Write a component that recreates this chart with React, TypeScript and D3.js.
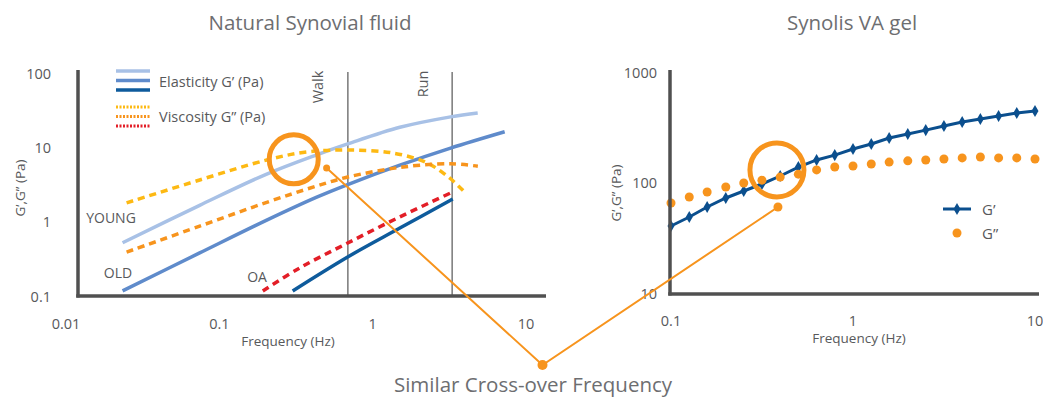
import React from "react";
import * as d3 from "d3";

// ---------- Left chart: Natural Synovial fluid ----------
const leftXTicks = [0.01, 0.1, 1, 10];
const leftXTickLabels = ["0.01", "0.1", "1", "10"];
const leftYTicks = [0.1, 1, 10, 100];
const leftYTickLabels = ["0.1", "1", "10", "100"];

const youngGpFreq = [0.0241, 0.0767, 0.21, 0.445, 0.708, 1.55, 3.32, 4.99];
const youngGpVal = [0.52, 1.66, 4.37, 7.94, 11.1, 18.6, 25.7, 29.0];

const youngGppFreq = [0.0256, 0.0767, 0.21, 0.383, 0.708, 1.39, 2.32, 3.27, 4.1];
const youngGppVal = [1.79, 3.64, 6.76, 8.67, 9.2, 8.4, 6.2, 3.87, 2.5];

const oldGpFreq = [0.0241, 0.0767, 0.21, 0.445, 0.708, 1.55, 3.32, 7.48];
const oldGpVal = [0.117, 0.38, 1.05, 2.14, 3.16, 5.75, 9.77, 16.2];

const oldGppFreq = [0.0256, 0.0767, 0.21, 0.445, 0.708, 1.55, 3.32, 5.0];
const oldGppVal = [0.39, 0.87, 1.82, 3.02, 3.98, 5.37, 6.03, 5.56];

const oaGppFreq = [0.198, 0.344, 0.708, 1.55, 3.43];
const oaGppVal = [0.117, 0.238, 0.516, 1.16, 2.51];

const oaGpFreq = [0.31, 0.708, 1.55, 3.43];
const oaGpVal = [0.117, 0.335, 0.82, 2.02];

const activityFreq = [0.71, 3.4];
const activityLabels = ["Walk", "Run"];

// ---------- Right chart: Synolis VA gel ----------
const rightXTicks = [0.1, 1, 10];
const rightXTickLabels = ["0.1", "1", "10"];
const rightYTicks = [10, 100, 1000];
const rightYTickLabels = ["10", "100", "1000"];

const gelFreq = [0.1, 0.126, 0.158, 0.2, 0.251, 0.316, 0.398, 0.501, 0.631, 0.794, 1, 1.26, 1.58, 2, 2.51, 3.16, 3.98, 5.01, 6.31, 7.94, 10];
const gelGp = [40.4, 48.7, 60, 72.4, 83.8, 96.9, 114.5, 138, 160, 177, 201, 223, 253, 275, 298, 324, 353, 376, 400, 426, 444];
const gelGpp = [65.2, 73.9, 82, 91, 98.9, 105, 112, 119, 130, 138, 141, 147, 153, 157, 160, 163, 167, 170, 167, 167, 163];

// annotation anchor values (data coordinates)
const leftCross = { f: 0.315, v: 6.9 };
const leftCrossDot = { f: 0.516, v: 5.28 };
const rightCross = { f: 0.382, v: 130 };
const rightCrossDot = { f: 0.387, v: 60 };
const apex = { f: 13.2, v: 0.0118 };

const C = {
  light: "#a8c1e6",
  medium: "#5f8bcb",
  dark: "#0e5b9c",
  diamond: "#0b4f8e",
  yellow: "#fdb913",
  orange: "#f7941d",
  red: "#e31e27",
  axis: "#505050",
  grid: "#808080",
  text: "#6d6e71",
  label: "#58595b",
};

const FONT = "'Open Sans', Lato, sans-serif";

export default function App() {
  const lx = d3.scaleLog().domain([0.01, 10]).range([64, 524]);
  const ly = d3.scaleLog().domain([0.1, 100]).range([296, 73]);
  const rx = d3.scaleLog().domain([0.1, 10]).range([671, 1035]);
  const ry = d3.scaleLog().domain([10, 1000]).range([293, 72]);

  const lineL = d3
    .line<[number, number]>()
    .x((d) => lx(d[0]))
    .y((d) => ly(d[1]))
    .curve(d3.curveCatmullRom.alpha(0.5));
  const lineR = d3
    .line<[number, number]>()
    .x((d) => rx(d[0]))
    .y((d) => ry(d[1]));

  const zip = (a: number[], b: number[]) => a.map((f, i) => [f, b[i]] as [number, number]);

  const curves = [
    { f: youngGpFreq, v: youngGpVal, color: C.light, dash: "" },
    { f: oldGpFreq, v: oldGpVal, color: C.medium, dash: "" },
    { f: oaGpFreq, v: oaGpVal, color: C.dark, dash: "" },
    { f: youngGppFreq, v: youngGppVal, color: C.yellow, dash: "7 5" },
    { f: oldGppFreq, v: oldGppVal, color: C.orange, dash: "7 5" },
    { f: oaGppFreq, v: oaGppVal, color: C.red, dash: "7 5" },
  ];

  const diamond = d3.symbol().type(d3.symbolDiamond).size(42)() as string;

  const apexX = lx(apex.f);
  const apexY = ly(apex.v);

  return (
    <svg
      width={1043}
      height={399}
      style={{ position: "absolute", left: 0, top: 0, background: "#fff" }}
      fontFamily={FONT}
    >
      {/* Titles */}
      <text x={310} y={30} textAnchor="middle" fontSize={20.5} fill={C.text}>
        Natural Synovial fluid
      </text>
      <text x={852} y={30} textAnchor="middle" fontSize={20.5} fill={C.text}>
        Synolis VA gel
      </text>

      {/* ---------- LEFT CHART ---------- */}
      {activityFreq.map((f, i) => (
        <g key={"act" + i}>
          <line x1={lx(f)} x2={lx(f)} y1={72} y2={296} stroke={C.grid} strokeWidth={1.6} />
          <text
            transform={`translate(${lx(f) - 30},${i === 0 ? 87 : 84}) rotate(-90)`}
            textAnchor="middle"
            dominantBaseline="central"
            fontSize={14.5}
            fill={C.label}
          >
            {activityLabels[i]}
          </text>
        </g>
      ))}

      {curves.map((c, i) => (
        <path
          key={"c" + i}
          d={lineL(zip(c.f, c.v)) || ""}
          fill="none"
          stroke={c.color}
          strokeWidth={3.5}
          strokeDasharray={c.dash}
        />
      ))}

      {/* axes */}
      <line x1={78} x2={78} y1={70} y2={297.5} stroke={C.axis} strokeWidth={3.5} />
      <line x1={76.25} x2={546} y1={296} y2={296} stroke={C.axis} strokeWidth={3.5} />

      {leftYTicks.map((t, i) => (
        <text key={"ly" + i} x={51} y={ly(t)} textAnchor="end" dominantBaseline="central" fontSize={14.5} fill={C.label}>
          {leftYTickLabels[i]}
        </text>
      ))}
      {leftXTicks.map((t, i) => (
        <text key={"lx" + i} x={lx(t) + 2} y={323} textAnchor="middle" dominantBaseline="central" fontSize={14.5} fill={C.label}>
          {leftXTickLabels[i]}
        </text>
      ))}
      <text x={288} y={341} textAnchor="middle" dominantBaseline="central" fontSize={13.5} fill={C.label}>
        Frequency (Hz)
      </text>
      <text
        transform="translate(20,188) rotate(-90)"
        textAnchor="middle"
        dominantBaseline="central"
        fontSize={13.5}
        fill={C.label}
      >
        G’,G” (Pa)
      </text>

      {/* group labels */}
      <text x={111} y={217} textAnchor="middle" dominantBaseline="central" fontSize={14} fill={C.label}>
        YOUNG
      </text>
      <text x={118} y={272} textAnchor="middle" dominantBaseline="central" fontSize={14} fill={C.label}>
        OLD
      </text>
      <text x={257} y={276} textAnchor="middle" dominantBaseline="central" fontSize={14} fill={C.label}>
        OA
      </text>

      {/* legend */}
      {[C.light, C.medium, C.dark].map((col, i) => (
        <line key={"lg1" + i} x1={116} x2={150} y1={71 + i * 9.5} y2={71 + i * 9.5} stroke={col} strokeWidth={3.5} />
      ))}
      <text x={159} y={81} dominantBaseline="central" fontSize={14.5} fill={C.label}>
        Elasticity G’ (Pa)
      </text>
      {[C.yellow, C.orange, C.red].map((col, i) => (
        <line
          key={"lg2" + i}
          x1={116}
          x2={150}
          y1={107 + i * 9.5}
          y2={107 + i * 9.5}
          stroke={col}
          strokeWidth={3}
          strokeDasharray="2 1.5"
        />
      ))}
      <text x={159} y={116} dominantBaseline="central" fontSize={14.5} fill={C.label}>
        Viscosity G” (Pa)
      </text>

      {/* ---------- RIGHT CHART ---------- */}
      <path d={lineR(zip(gelFreq, gelGp)) || ""} fill="none" stroke={C.diamond} strokeWidth={3} />
      {gelFreq.map((f, i) => (
        <path key={"dm" + i} d={diamond} transform={`translate(${rx(f)},${ry(gelGp[i])})`} fill={C.diamond} />
      ))}
      {gelFreq.map((f, i) => (
        <circle key={"gd" + i} cx={rx(f)} cy={ry(gelGpp[i])} r={4.5} fill={C.orange} />
      ))}

      <line x1={670} x2={670} y1={70} y2={295.5} stroke={C.axis} strokeWidth={3.5} />
      <line x1={668.25} x2={1039} y1={294} y2={294} stroke={C.axis} strokeWidth={3.5} />

      {rightYTicks.map((t, i) => (
        <text key={"ry" + i} x={657} y={ry(t)} textAnchor="end" dominantBaseline="central" fontSize={14.5} fill={C.label}>
          {rightYTickLabels[i]}
        </text>
      ))}
      {rightXTicks.map((t, i) => (
        <text key={"rx" + i} x={rx(t)} y={320} textAnchor="middle" dominantBaseline="central" fontSize={14.5} fill={C.label}>
          {rightXTickLabels[i]}
        </text>
      ))}
      <text x={859} y={338} textAnchor="middle" dominantBaseline="central" fontSize={13.5} fill={C.label}>
        Frequency (Hz)
      </text>
      <text
        transform="translate(616,193) rotate(-90)"
        textAnchor="middle"
        dominantBaseline="central"
        fontSize={13.5}
        fill={C.label}
      >
        G’,G” (Pa)
      </text>

      {/* right legend */}
      <line x1={943} x2={971} y1={209} y2={209} stroke={C.diamond} strokeWidth={3} />
      <path d={diamond} transform="translate(957,209)" fill={C.diamond} />
      <text x={982} y={209} dominantBaseline="central" fontSize={15} fill={C.label}>
        G’
      </text>
      <circle cx={957} cy={233} r={4.5} fill={C.orange} />
      <text x={982} y={233} dominantBaseline="central" fontSize={15} fill={C.label}>
        G”
      </text>

      {/* ---------- ANNOTATION ---------- */}
      <circle cx={lx(leftCross.f)} cy={ly(leftCross.v)} r={24.5} fill="none" stroke={C.orange} strokeWidth={5} />
      <circle cx={rx(rightCross.f)} cy={ry(rightCross.v)} r={27} fill="none" stroke={C.orange} strokeWidth={5} />
      <circle cx={lx(leftCrossDot.f)} cy={ly(leftCrossDot.v)} r={3.5} fill={C.orange} />
      <circle cx={rx(rightCrossDot.f)} cy={ry(rightCrossDot.v)} r={4.5} fill={C.orange} />
      <polyline
        points={`${lx(leftCrossDot.f)},${ly(leftCrossDot.v)} ${apexX},${apexY} ${rx(rightCrossDot.f)},${ry(rightCrossDot.v)}`}
        fill="none"
        stroke={C.orange}
        strokeWidth={2}
      />
      <circle cx={apexX} cy={apexY} r={5} fill={C.orange} />
      <text x={533} y={384} textAnchor="middle" dominantBaseline="central" fontSize={20.5} fill={C.text}>
        Similar Cross-over Frequency
      </text>
    </svg>
  );
}
